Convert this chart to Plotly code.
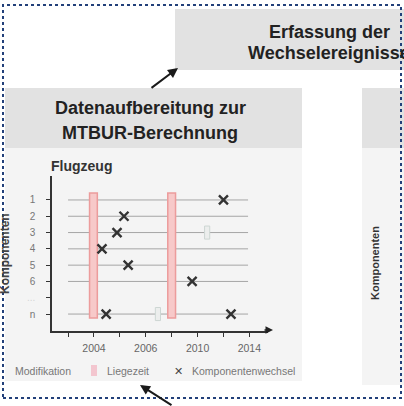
import plotly.graph_objects as go

W, H = 404, 406
def PX(p): return p / W
def PY(p): return 1 - p / H

# ---- data ----
row_labels = ["1", "2", "3", "4", "5", "6", "<span style='color:#d5d5d5'>...</span>", "n"]
row_pos = [1, 2, 3, 4, 5, 6, 7, 8]
timeline_rows = [1, 2, 3, 4, 5, 6, 8]
timeline_start = 0.0
timeline_end = 6.95
x_tick_pos = [0, 1, 2, 3, 4, 5, 6, 7]
x_tick_text = ["", "2004", "", "2006", "", "2010", "", "2014"]

liegezeit_x = [0.98, 4.0]
liegezeit_from = [0.57, 0.57]
liegezeit_to = [8.25, 8.25]

modifikation_x = [5.37, 3.47]
modifikation_row = [3, 8]

wechsel_x = [6.0, 2.16, 1.89, 1.31, 2.32, 4.79, 1.47, 6.29]
wechsel_row = [1, 2, 3, 4, 5, 6, 8, 8]

fig = go.Figure()

fig.add_trace(go.Bar(
    x=liegezeit_x,
    y=[t - f for f, t in zip(liegezeit_from, liegezeit_to)],
    base=liegezeit_from, width=0.3,
    marker=dict(color="#f7c9c9", line=dict(color="#ec9c9c", width=1.5)),
    name="Liegezeit", showlegend=False, hoverinfo="skip"))

fig.add_trace(go.Bar(
    x=modifikation_x, y=[0.8] * len(modifikation_row),
    base=[r - 0.4 for r in modifikation_row], width=0.2,
    marker=dict(color="#eceeed", line=dict(color="#cdd6d3", width=1)),
    name="Modifikation", showlegend=False, hoverinfo="skip"))

fig.add_trace(go.Scatter(
    x=wechsel_x, y=wechsel_row, mode="markers",
    marker=dict(symbol="x-thin", size=9, line=dict(color="#333333", width=2.4)),
    name="Komponentenwechsel", showlegend=False, hoverinfo="skip"))

shapes = []
box = lambda x0, y0, x1, y1, c: dict(type="rect", xref="paper", yref="paper",
                                     x0=PX(x0), x1=PX(x1), y0=PY(y1), y1=PY(y0),
                                     fillcolor=c, line=dict(width=0), layer="below")
shapes.append(box(175, 9, 410, 70, "#e2e2e2"))
shapes.append(box(5, 88, 302, 148, "#e2e2e2"))
shapes.append(box(5, 148, 302, 381, "#f4f4f4"))
shapes.append(box(362, 88, 410, 148, "#e2e2e2"))
shapes.append(box(362, 148, 410, 385, "#f4f4f4"))
for r in timeline_rows:
    shapes.append(dict(type="line", xref="x", yref="y", x0=timeline_start, x1=timeline_end,
                       y0=r, y1=r, line=dict(color="#a5a5a5", width=1), layer="below"))
shapes.append(dict(type="rect", xref="paper", yref="paper", x0=PX(91), x1=PX(97),
                   y0=PY(376), y1=PY(365), fillcolor="#f3c6cf", line=dict(width=0)))
shapes.append(dict(type="rect", xref="paper", yref="paper", x0=PX(3), x1=PX(401),
                   y0=PY(398), y1=PY(5), line=dict(color="#22407a", width=2, dash="dot"),
                   fillcolor="rgba(0,0,0,0)", layer="above"))

FONT = "Liberation Sans, Arial, sans-serif"
def txt(x, y, s, size, color="#222", bold=False, angle=0, xanchor="center"):
    return dict(x=PX(x), y=PY(y), xref="paper", yref="paper", text=("<b>%s</b>" % s) if bold else s,
                showarrow=False, textangle=angle, xanchor=xanchor, yanchor="middle",
                font=dict(family=FONT, size=size, color=color))

ann = [
    txt(329, 32, "Erfassung der", 18, bold=True),
    txt(329, 53, "Wechselereignisse", 18, bold=True),
    txt(150, 108, "Datenaufbereitung zur", 18, bold=True),
    txt(150, 133, "MTBUR-Berechnung", 18, bold=True),
    txt(81, 166, "Flugzeug", 14, color="#333", bold=True),
    txt(5, 254, "Komponenten", 12, color="#444", bold=True, angle=-90),
    txt(375, 263, "Komponenten", 11, color="#333", bold=True, angle=-90),
    txt(13, 371, "Modifikation", 10.5, color="#777", xanchor="left"),
    txt(105, 371, "Liegezeit", 10.5, color="#777", xanchor="left"),
    txt(178, 371, "✕", 11, color="#444"),
    txt(190, 371, "Komponentenwechsel", 10.5, color="#777", xanchor="left"),
]
def arrow(tx, ty, fx, fy, width=2):
    return dict(x=PX(tx), y=PY(ty), xref="paper", yref="paper", ax=fx - tx, ay=fy - ty,
                text="", showarrow=True, arrowhead=2, arrowsize=1, arrowwidth=width,
                arrowcolor="#1a1a1a", standoff=0)
ann.append(arrow(178, 68, 150, 89))
ann.append(arrow(140, 385, 173, 408))
ann.append(dict(x=PX(273), y=PY(330), xref="paper", yref="paper", ax=-10, ay=0, text="",
                showarrow=True, arrowhead=2, arrowsize=1, arrowwidth=1.5, arrowcolor="#222",
                standoff=0))

fig.update_layout(
    width=W, height=H, margin=dict(l=0, r=0, t=0, b=0),
    paper_bgcolor="white", plot_bgcolor="rgba(0,0,0,0)",
    barmode="overlay", showlegend=False,
    shapes=shapes, annotations=ann,
    font=dict(family=FONT),
    xaxis=dict(domain=[PX(52), PX(268)], range=[-0.62, 7.72], showgrid=False, zeroline=False,
               showline=True, linecolor="#333", linewidth=1.5,
               tickvals=x_tick_pos, ticktext=x_tick_text, ticks="outside", ticklen=4,
               tickcolor="#333", tickwidth=1, ticklabelstandoff=3,
               tickfont=dict(size=10.5, color="#666"), fixedrange=True),
    yaxis=dict(domain=[PY(331), PY(176)], range=[9.04, -0.47], showgrid=False, zeroline=False,
               showline=True, linecolor="#333", linewidth=1.5,
               tickvals=row_pos, ticktext=row_labels, ticks="outside", ticklen=4,
               tickcolor="#333", tickwidth=1, ticklabelstandoff=9,
               tickfont=dict(size=10, color="#777"), fixedrange=True),
)

fig.write_html("out.html", config={"displayModeBar": False},
               post_script="document.body.style.margin='0';document.body.style.overflow='hidden';")
